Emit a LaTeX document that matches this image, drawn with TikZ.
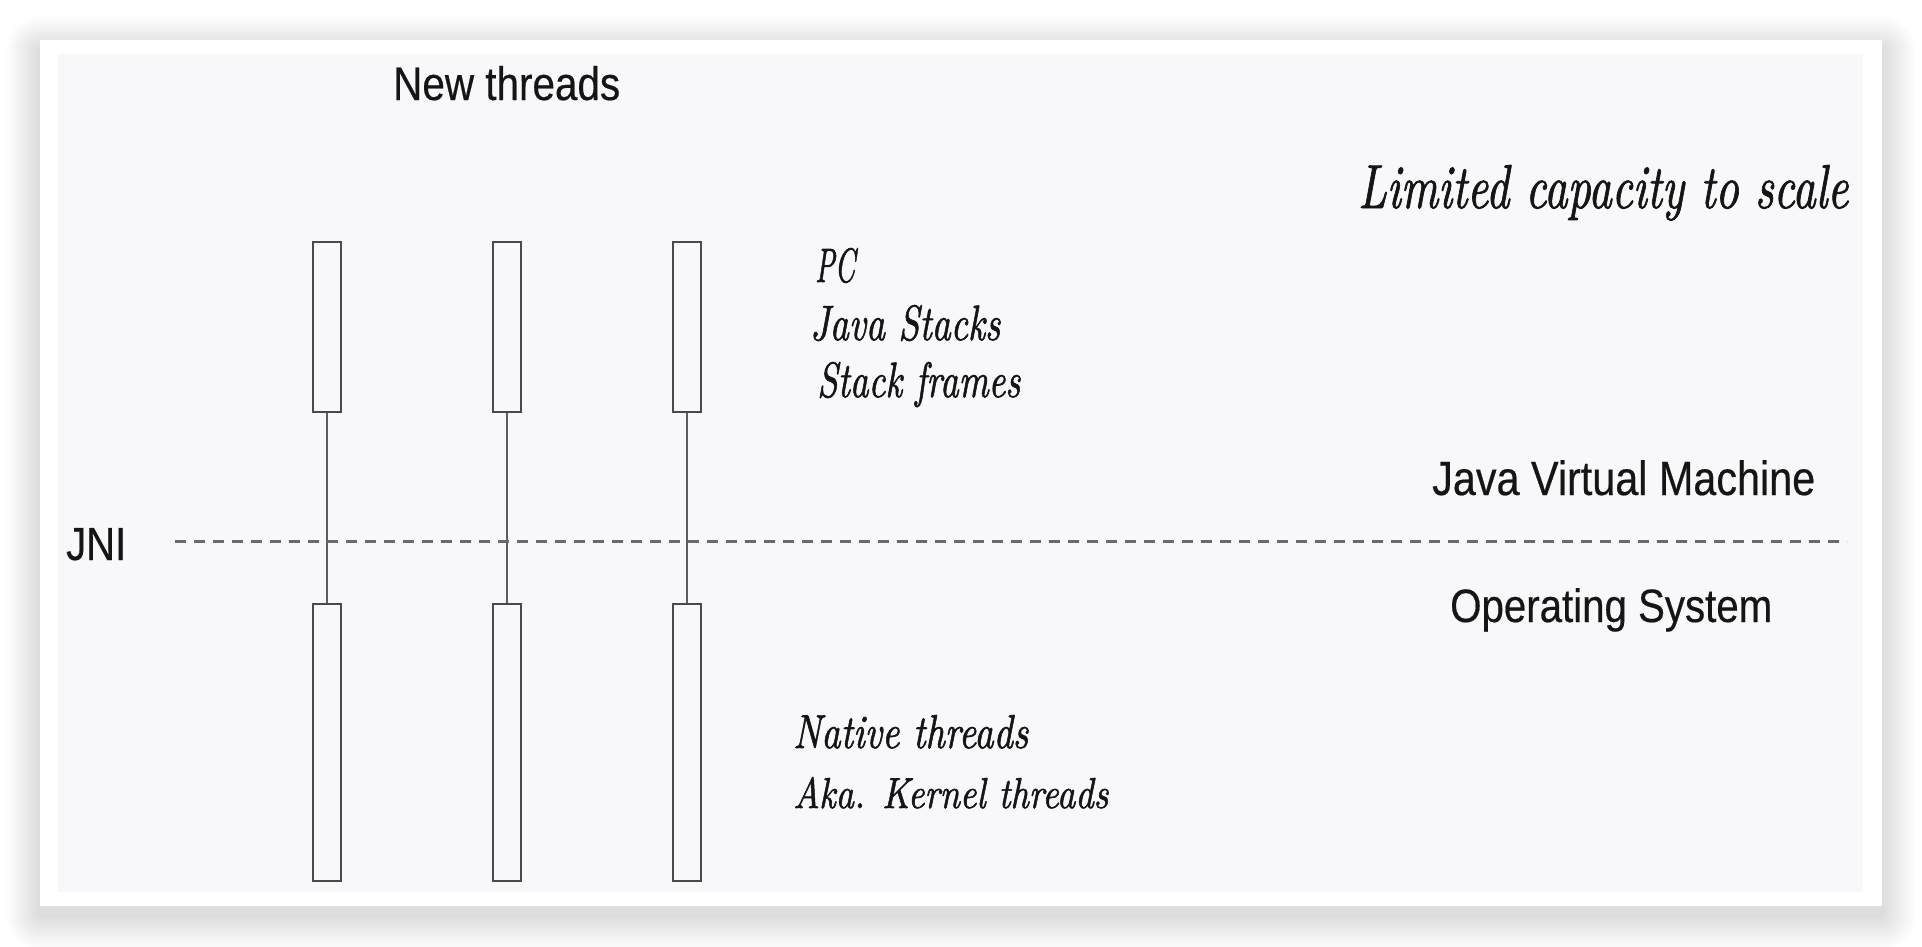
\documentclass[tikz,border=0pt]{standalone}
\usepackage{fontspec}
\usepackage{graphicx}
\newfontfamily\robo[FakeStretch=0.86, FakeBold=0.4]{Liberation Sans}
\newfontfamily\hand{lmroman10-italic}[Extension=.otf, FakeBold=1.4]
\definecolor{panel}{HTML}{F8F7FA}
\definecolor{strk}{HTML}{4A4A4A}
\definecolor{connc}{HTML}{5C5C5C}
\definecolor{dashc}{HTML}{6A6A6A}
\definecolor{ink}{HTML}{151515}
\newcommand\fitw[2]{\resizebox{#1}{!}{#2}}
\newcommand\fitwh[3]{\resizebox{#1}{#2}{#3}}
\tikzset{
  threadbox/.style={draw=strk, line width=2.6pt, minimum width=28pt, inner sep=0pt},
  conn/.style={draw=connc, line width=2.2pt},
  jniline/.style={draw=dashc, line width=3pt, dash pattern=on 11pt off 8pt},
  lbl/.style={anchor=base west, inner sep=0pt, text=ink},
  shadowstep/.style={fill=black, opacity=0.0028},
}
\begin{document}
\begin{tikzpicture}[x=1pt,y=-1pt]
\useasboundingbox (0,0) rectangle (1922,946);
\fill[white] (0,0) rectangle (1922,946);
% soft shadow under the card
\foreach \r in {1,...,34}{
  \fill[shadowstep, rounded corners=\r pt] (40-\r,50-\r) rectangle (1882+\r,916+\r);
}
% card and panel
\fill[white] (40,40) rectangle (1882,906);
\fill[panel] (58,54) rectangle (1863,892);

% thread boxes
\foreach \i/\x in {1/327,2/507,3/687}{
  \node[threadbox, minimum height=170pt] (u\i) at (\x,327) {};
  \node[threadbox, minimum height=277pt] (l\i) at (\x,742.5) {};
  \draw[conn] (u\i.south) -- (l\i.north);
}

% JNI dashed line
\coordinate (jniL) at (175,541);
\coordinate (jniR) at (1847,541);
\draw[jniline] (jniL) -- (jniR);

% sans labels
\node[lbl] (newth) at (393,100) {\fitw{227pt}{\robo New threads}};
\node[lbl] (jni) at (66,560) {\fitw{60pt}{\robo JNI}};
\node[lbl] (jvm) at (1432,495) {\fitw{383pt}{\robo Java Virtual Machine}};
\node[lbl] (os) at (1450,622) {\fitw{322pt}{\robo Operating System}};

% handwritten labels
\node[lbl] (limit) at (1358,208) {\fitwh{490pt}{43pt}{\hand Limited capacity to scale}};
\node[lbl] (pc) at (815,282) {\fitwh{40pt}{34pt}{\hand PC}};
\node[lbl] (jstk) at (810,340) {\fitwh{190pt}{35pt}{\hand Java Stacks}};
\node[lbl] (sfr) at (817,397) {\fitwh{203pt}{35pt}{\hand Stack frames}};
\node[lbl] (nat) at (793,748) {\fitwh{235pt}{33pt}{\hand Native threads}};
\node[lbl] (aka) at (793,808) {\fitwh{315pt}{31pt}{\hand Aka. Kernel threads}};
\end{tikzpicture}
\end{document}
